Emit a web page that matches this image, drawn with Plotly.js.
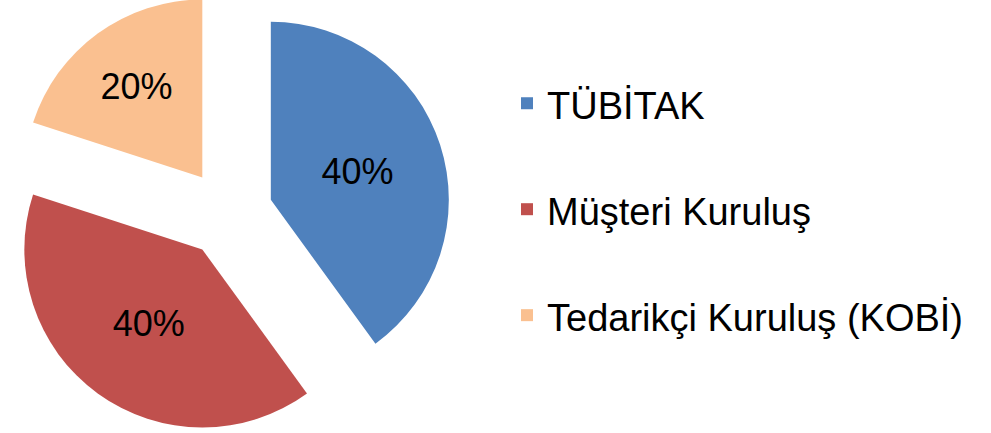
<!DOCTYPE html>
<html>
<head>
<meta charset="utf-8">
<script src="https://cdn.plot.ly/plotly-3.0.1.min.js"></script>
<style>
  html, body { margin: 0; padding: 0; width: 991px; height: 433px; overflow: hidden; background: #ffffff; }
  #chart { position: absolute; left: 0; top: -9px; width: 991px; height: 445px; }
</style>
</head>
<body>
<div id="chart"></div>
<script>
// Data
const categories = ['TÜBİTAK', 'Müşteri Kuruluş', 'Tedarikçi Kuruluş (KOBİ)'];
const shares = [40, 40, 20];

// Styling
const sliceColors = ['#4F81BD', '#C0504D', '#FAC090'];
const FONT = 'Liberation Sans, Arial, Helvetica, sans-serif';

// Legend labels: one text line plus a blank line to reproduce the wide spacing
const legendLabels = categories.map(c => '<span style="font-size:38px">' + c + '</span><br> ');

const trace = {
  type: 'pie',
  labels: legendLabels,
  values: shares,
  sort: false,
  direction: 'clockwise',
  rotation: 0,
  pull: 0.25,
  marker: { colors: sliceColors, line: { width: 0 } },
  textinfo: 'percent',
  texttemplate: '%{percent:.0%}',
  textposition: 'inside',
  insidetextorientation: 'horizontal',
  textfont: { family: FONT, size: 36, color: '#000000' },
  hoverinfo: 'skip',
  domain: { x: [0, 457 / 991], y: [0, 1] },
  showlegend: true
};

const layout = {
  width: 991,
  height: 445,
  margin: { l: 0, r: 0, t: 0, b: 0, pad: 0 },
  paper_bgcolor: '#ffffff',
  plot_bgcolor: '#ffffff',
  font: { family: FONT, color: '#000000' },
  showlegend: true,
  legend: {
    x: 507 / 991,
    xanchor: 'left',
    y: 1 - 80 / 445,
    yanchor: 'top',
    valign: 'top',
    font: { family: FONT, size: 39.6, color: '#000000' },
    bgcolor: 'rgba(0,0,0,0)',
    borderwidth: 0
  }
};

Plotly.newPlot('chart', [trace], layout, { displayModeBar: false, staticPlot: true });
</script>
</body>
</html>
